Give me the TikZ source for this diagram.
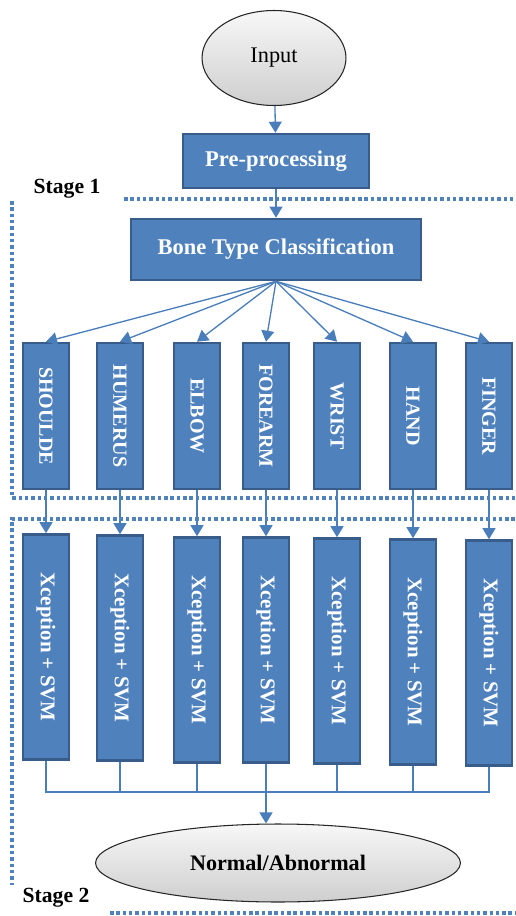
\documentclass[tikz,border=0pt]{standalone}
\usepackage{fontspec}
\setmainfont{Liberation Serif}
\usepackage{graphicx}
\usetikzlibrary{positioning,arrows.meta,shapes.geometric}
\definecolor{boxfill}{HTML}{4F81BD}
\definecolor{boxline}{HTML}{385D8A}
\definecolor{linkcol}{HTML}{4A7EBB}
\begin{document}
\begin{tikzpicture}[x=0.02cm,y=-0.02cm,
  blk/.style={draw=boxline,line width=1.5pt,fill=boxfill,text=white,inner sep=0pt,
    font=\bfseries\fontsize{12.8}{14}\selectfont},
  bonebox/.style={blk,minimum width=0.92cm,minimum height=2.92cm,
    font=\bfseries\fontsize{11.4}{13}\selectfont},
  svmbox/.style={blk,minimum width=0.92cm,minimum height=4.5cm,
    font=\bfseries\fontsize{11.9}{13}\selectfont},
  oval/.style={ellipse,draw=black!85,line width=0.6pt,top color=gray!6,bottom color=gray!38,inner sep=0pt},
  link/.style={draw=linkcol,line width=0.75pt},
  arr/.style={link,-{Triangle[width=0.26cm,length=0.22cm]}},
  stageline/.style={draw=boxfill,line width=2pt,dash pattern=on 2pt off 1.6pt},
  stagelbl/.style={font=\bfseries\fontsize{12.3}{14}\selectfont,inner sep=0pt}]
\useasboundingbox (0,0) rectangle (515,916);
\node[oval,minimum width=2.88cm,minimum height=1.9cm,font=\fontsize{12.7}{14}\selectfont] (in) at (274,58) {Input};
\node[blk,minimum width=3.72cm,minimum height=1.08cm] (pre) at (276,161) {Pre-processing};
\node[blk,minimum width=5.8cm,minimum height=1.22cm] (cls) at (276,249.5) {Bone Type Classification};
\draw[arr] (in) -- (pre);
\draw[arr] (pre) -- (cls);
\foreach \i/\x/\sy/\lbl in {1/46/647/SHOULDE,2/120/648/HUMERUS,3/197/650/ELBOW,4/266/650/FOREARM,
    5/337/651/WRIST,6/413/652/HAND,7/489/653/FINGER}{
  \node[bonebox] (b\i) at (\x,416) {\rotatebox{-90}{\lbl}};
  \node[svmbox] (s\i) at (\x,\sy) {\rotatebox{-90}{Xception + SVM}};
  \draw[arr] (cls.south) -- (b\i.north);
  \draw[arr] (b\i.south) -- (s\i.north);
  \draw[link] (s\i.south) -- ++(0,792-\sy-113);
}
\coordinate (bus) at (266,792);
\draw[link] (s1.south |- bus) -- (s7.south |- bus);
\node[oval,minimum width=7.3cm,minimum height=1.56cm,font=\bfseries\fontsize{12.6}{14}\selectfont] (out) at (278,863) {Normal/Abnormal};
\draw[arr] (bus) -- (out.north -| bus);
\draw[stageline] (124,199) -- (515,199);
\draw[stageline] (12,201) -- (12,498) -- (515,498);
\draw[stageline] (515,519) -- (12,519) -- (12,885);
\draw[stageline] (110,913) -- (515,913);
\node[stagelbl] (stage1) at (67,189) {Stage 1};
\node[stagelbl] (stage2) at (56,898) {Stage 2};
\end{tikzpicture}
\end{document}
